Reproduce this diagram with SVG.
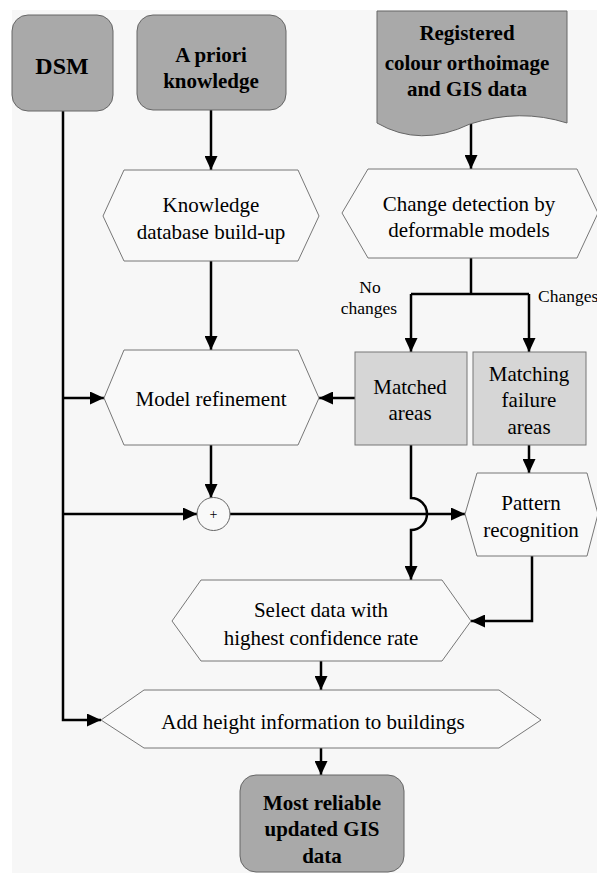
<svg xmlns="http://www.w3.org/2000/svg" width="597" height="873" viewBox="0 0 597 873">
<defs>
<marker id="ah" viewBox="0 0 14 13" refX="14" refY="6.5" markerWidth="14" markerHeight="13" markerUnits="userSpaceOnUse" orient="auto">
<path d="M0,0 L14,6.5 L0,13 Z" fill="#000"/>
</marker>
<style>
.term{fill:#a9a9a9;stroke:#666;stroke-width:1}
.proc{fill:#f9f9f9;stroke:#777;stroke-width:1}
.box{fill:#d6d6d6;stroke:#777;stroke-width:1}
.con{fill:none;stroke:#000;stroke-width:2.5}
text{font-family:'Liberation Serif','Times New Roman','DejaVu Serif',serif;fill:#000}
.bt{font-weight:bold;font-size:21px;text-anchor:middle}
.t{font-size:21px;text-anchor:middle}
.lbl{font-size:17.5px}
</style>
</defs>
<rect x="0" y="0" width="597" height="873" fill="#fff"/>
<rect x="12" y="10" width="585" height="863" fill="#f7f7f7"/>

<g id="connectors">
<path class="con" d="M63,111 V720 H101" marker-end="url(#ah)"/>
<path class="con" d="M63,398 H104" marker-end="url(#ah)"/>
<path class="con" d="M63,514 H197" marker-end="url(#ah)"/>
<path class="con" d="M211,110 V170" marker-end="url(#ah)"/>
<path class="con" d="M211,261 V350" marker-end="url(#ah)"/>
<path class="con" d="M211,445 V498" marker-end="url(#ah)"/>
<path class="con" d="M471,124 V169" marker-end="url(#ah)"/>
<path class="con" d="M471,258 V294"/>
<path class="con" d="M411,294 H529"/>
<path class="con" d="M411,294 V352" marker-end="url(#ah)"/>
<path class="con" d="M529,294 V352" marker-end="url(#ah)"/>
<path class="con" d="M355,398 H319" marker-end="url(#ah)"/>
<path class="con" d="M529,445 V473" marker-end="url(#ah)"/>
<path class="con" d="M230,514 H465" marker-end="url(#ah)"/>
<path class="con" d="M411,445 V498 A16,16 0 0 1 411,530 V580" marker-end="url(#ah)"/>
<path class="con" d="M532,556 V621 H471" marker-end="url(#ah)"/>
<path class="con" d="M321,661 V690" marker-end="url(#ah)"/>
<path class="con" d="M321,748 V775" marker-end="url(#ah)"/>
<text class="lbl" x="370" y="293" text-anchor="middle">No</text>
<text class="lbl" x="369" y="314" text-anchor="middle">changes</text>
<text class="lbl" x="538" y="302">Changes</text>
</g>

<g id="dsm">
<rect class="term" x="12" y="15" width="101" height="96" rx="16"/>
<text class="bt" x="62" y="74" style="font-size:24px">DSM</text>
</g>

<g id="apriori">
<rect class="term" x="137" y="15" width="149" height="95" rx="16"/>
<text class="bt" x="211" y="62">A priori</text>
<text class="bt" x="211" y="88">knowledge</text>
</g>

<g id="registered">
<path class="term" d="M377,11 H567 V123 Q520,108 470,124 Q420,148 377,123 Z"/>
<text class="bt" x="467" y="40">Registered</text>
<text class="bt" x="467" y="70">colour orthoimage</text>
<text class="bt" x="467" y="96">and GIS data</text>
</g>

<g id="knowledge">
<polygon class="proc" points="103,216 124,170 298,170 319,216 298,261 124,261"/>
<text class="t" x="211" y="212">Knowledge</text>
<text class="t" x="211" y="239">database build-up</text>
</g>

<g id="change">
<polygon class="proc" points="342,213 368,169 577,169 598,213 577,258 368,258"/>
<text class="t" x="469" y="211">Change detection by</text>
<text class="t" x="469" y="237">deformable models</text>
</g>

<g id="refinement">
<polygon class="proc" points="104,398 124,350 298,350 319,398 298,445 124,445"/>
<text class="t" x="211" y="406">Model refinement</text>
</g>

<g id="matched">
<rect class="box" x="355" y="352" width="112" height="93"/>
<text class="t" x="410" y="394">Matched</text>
<text class="t" x="410" y="420">areas</text>
</g>

<g id="failure">
<rect class="box" x="473" y="352" width="113" height="93"/>
<text class="t" x="529" y="381">Matching</text>
<text class="t" x="529" y="407">failure</text>
<text class="t" x="529" y="434">areas</text>
</g>

<g id="plus">
<circle cx="213.5" cy="514" r="16.5" fill="#f9f9f9" stroke="#666" stroke-width="1"/>
<text x="213.5" y="519" text-anchor="middle" font-size="14">+</text>
</g>

<g id="pattern">
<polygon class="proc" points="465,514 477,473 587,473 598,514 587,556 477,556"/>
<text class="t" x="531" y="510">Pattern</text>
<text class="t" x="531" y="537">recognition</text>
</g>

<g id="select">
<polygon class="proc" points="172,621 201,580 442,580 471,621 442,661 201,661"/>
<text class="t" x="321" y="617">Select data with</text>
<text class="t" x="321" y="645">highest confidence rate</text>
</g>

<g id="height">
<polygon class="proc" points="101,720 144,690 499,690 541,720 499,748 144,748"/>
<text class="t" x="313" y="729">Add height information to buildings</text>
</g>

<g id="result">
<rect class="term" x="240" y="775" width="164" height="97" rx="16"/>
<text class="bt" x="322" y="810">Most reliable</text>
<text class="bt" x="322" y="836">updated GIS</text>
<text class="bt" x="322" y="863">data</text>
</g>
</svg>
